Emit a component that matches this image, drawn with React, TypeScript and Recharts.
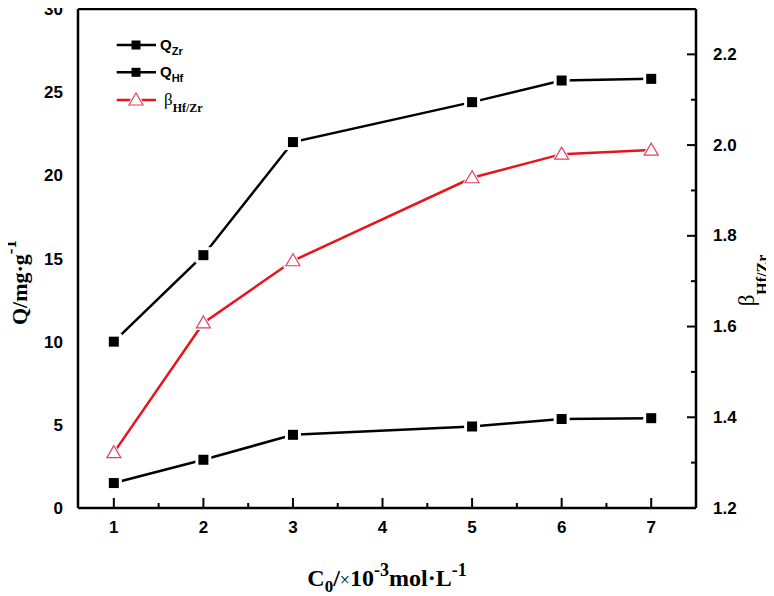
import { Legend, Line, LineChart, ReferenceLine, XAxis, YAxis } from "recharts";

const concentrations = [1, 2, 3, 5, 6, 7];
const qZr = [1.5, 2.9, 4.4, 4.9, 5.35, 5.4];
const qHf = [10.0, 15.2, 22.0, 24.4, 25.7, 25.8];
const betaHfZr = [1.322, 1.608, 1.745, 1.928, 1.98, 1.989];

const xTicks = [1, 1.5, 2, 2.5, 3, 3.5, 4, 4.5, 5, 5.5, 6, 6.5, 7];
const qTicks = [0, 5, 10, 15, 20, 25, 30];
const betaTicks = [1.2, 1.3, 1.4, 1.5, 1.6, 1.7, 1.8, 1.9, 2.0, 2.1, 2.2];

const data = concentrations.map((c, i) => ({ c, qZr: qZr[i], qHf: qHf[i], beta: betaHfZr[i] }));

const SANS = "'Liberation Sans', Arial, sans-serif";
const SERIF = "'Liberation Serif', 'Times New Roman', serif";
const RED = "#e8141c";
const PINK = "#e0406a";

function XTick({ x, y, payload }: any) {
  const v = payload.value;
  const major = Number.isInteger(v);
  return (
    <g>
      <line x1={x} y1={y} x2={x} y2={y - (major ? 10 : 5)} stroke="#000" strokeWidth={2} />
      {major && (
        <text x={x} y={y + 19} textAnchor="middle" dominantBaseline="central" fontFamily={SANS} fontWeight="bold" fontSize={17} fill="#000">
          {v}
        </text>
      )}
    </g>
  );
}

function RightTick({ x, y, payload }: any) {
  const v = payload.value;
  const major = Math.round(v * 10) % 2 === 0;
  return (
    <g>
      <line x1={x} y1={y} x2={x - (major ? 9 : 5)} y2={y} stroke="#000" strokeWidth={2} />
      {major && (
        <text x={x + 17} y={y} textAnchor="start" dominantBaseline="central" fontFamily={SANS} fontWeight="bold" fontSize={17} fill="#000">
          {v.toFixed(1)}
        </text>
      )}
    </g>
  );
}

function BottomTitle({ viewBox }: any) {
  const { x, y, width } = viewBox;
  return (
    <text x={x + width / 2} y={y + 78} textAnchor="middle" fontFamily={SERIF} fontWeight="bold" fontSize={24} fill="#000">
      C<tspan dy={6} fontSize={17}>0</tspan>
      <tspan dy={-6}>/</tspan>
      <tspan fontWeight="normal" fontSize={18}>×</tspan>
      <tspan>10</tspan>
      <tspan dy={-10} fontSize={18}>-3</tspan>
      <tspan dy={10}>mol·L</tspan>
      <tspan dy={-10} fontSize={18}>-1</tspan>
    </text>
  );
}

function LeftTitle({ viewBox }: any) {
  const cx = 19;
  const cy = viewBox.y + viewBox.height / 2 + 24;
  return (
    <text x={cx} y={cy} transform={`rotate(-90, ${cx}, ${cy})`} textAnchor="middle" fontFamily={SERIF} fontWeight="bold" fontSize={22} fill="#000">
      Q/mg·g<tspan dy={-11} fontSize={17}>-1</tspan>
    </text>
  );
}

function RightTitle({ viewBox }: any) {
  const cx = viewBox.x + 58;
  const cy = viewBox.y + viewBox.height / 2 + 22;
  return (
    <text x={cx} y={cy} transform={`rotate(-90, ${cx}, ${cy})`} textAnchor="middle" fontFamily={SERIF} fontSize={23} fill="#000">
      β<tspan dy={14} fontSize={16} fontWeight="bold">Hf/Zr</tspan>
    </text>
  );
}

function SquareDot({ cx, cy, index }: any) {
  return (
    <g key={index}>
      <rect x={cx - 8} y={cy - 8} width={16} height={16} fill="#fff" />
      <rect x={cx - 5} y={cy - 5} width={10} height={10} fill="#000" />
    </g>
  );
}

function TriangleDot({ cx, cy, index }: any) {
  return (
    <g key={index}>
      <polygon points={`${cx},${cy - 10} ${cx - 10},${cy + 7} ${cx + 10},${cy + 7}`} fill="#fff" />
      <polygon points={`${cx},${cy - 7} ${cx - 7},${cy + 5} ${cx + 7},${cy + 5}`} fill="#fff" stroke={PINK} strokeWidth={1.2} />
    </g>
  );
}

function LegendBox() {
  const rows = [
    { y: 8, color: "#000", sub: "Zr", tri: false },
    { y: 35.3, color: "#000", sub: "Hf", tri: false },
    { y: 63, color: RED, sub: "Hf/Zr", tri: true },
  ];
  return (
    <svg width={140} height={84} style={{ display: "block", overflow: "visible" }}>
      {rows.map((r) => (
        <g key={r.sub + r.y}>
          <line x1={4.7} y1={r.y} x2={44} y2={r.y} stroke={r.color} strokeWidth={2.5} />
          {r.tri ? (
            <TriangleDot cx={24} cy={r.y} index={0} />
          ) : (
            <rect x={19.5} y={r.y - 4.5} width={9} height={9} fill="#000" />
          )}
          {r.tri ? (
            <text x={52} y={r.y + 5} fontFamily={SERIF} fontSize={17} fill="#000">
              β<tspan dy={7} fontSize={12} fontWeight="bold">Hf/Zr</tspan>
            </text>
          ) : (
            <text x={48} y={r.y + 5} fontFamily={SANS} fontWeight="bold" fontSize={15} fill="#000">
              Q<tspan dy={5} fontSize={11}>{r.sub}</tspan>
            </text>
          )}
        </g>
      ))}
    </svg>
  );
}

export default function App() {
  return (
    <div>
      <style>{`.recharts-surface{overflow:visible}`}</style>
      <LineChart width={766} height={588} data={data} margin={{ top: 1, right: 0, bottom: 0, left: 0 }}>
        <XAxis
          dataKey="c"
          type="number"
          domain={[0.6, 7.5]}
          ticks={xTicks}
          interval={0}
          allowDataOverflow
          height={88}
          tickSize={0}
          tickMargin={0}
          tickLine={false}
          tick={<XTick />}
          axisLine={{ stroke: "#000", strokeWidth: 2.5 }}
          label={<BottomTitle />}
        />
        <YAxis
          yAxisId="left"
          domain={[0, 30]}
          ticks={qTicks}
          interval={0}
          width={70}
          tickSize={0}
          tickMargin={15}
          tickLine={false}
          tick={{ fill: "#000", fontSize: 17, fontWeight: "bold", fontFamily: SANS }}
          axisLine={{ stroke: "#000", strokeWidth: 2.5 }}
          label={<LeftTitle />}
        />
        <YAxis
          yAxisId="right"
          orientation="right"
          domain={[1.2, 2.3]}
          ticks={betaTicks}
          interval={0}
          allowDataOverflow
          width={78}
          tickSize={0}
          tickMargin={0}
          tickLine={false}
          tick={<RightTick />}
          axisLine={{ stroke: "#000", strokeWidth: 2.5 }}
          label={<RightTitle />}
        />
        <ReferenceLine yAxisId="left" y={30} stroke="#000" strokeWidth={2.5} />
        <Legend
          layout="vertical"
          align="center"
          verticalAlign="middle"
          content={() => <LegendBox />}
          wrapperStyle={{ left: 104, top: 29, width: 140 }}
        />
        <Line yAxisId="left" dataKey="qZr" stroke="#000" strokeWidth={2.5} dot={SquareDot} isAnimationActive={false} />
        <Line yAxisId="left" dataKey="qHf" stroke="#000" strokeWidth={2.5} dot={SquareDot} isAnimationActive={false} />
        <Line yAxisId="right" dataKey="beta" stroke={RED} strokeWidth={2.5} dot={TriangleDot} isAnimationActive={false} />
      </LineChart>
    </div>
  );
}
